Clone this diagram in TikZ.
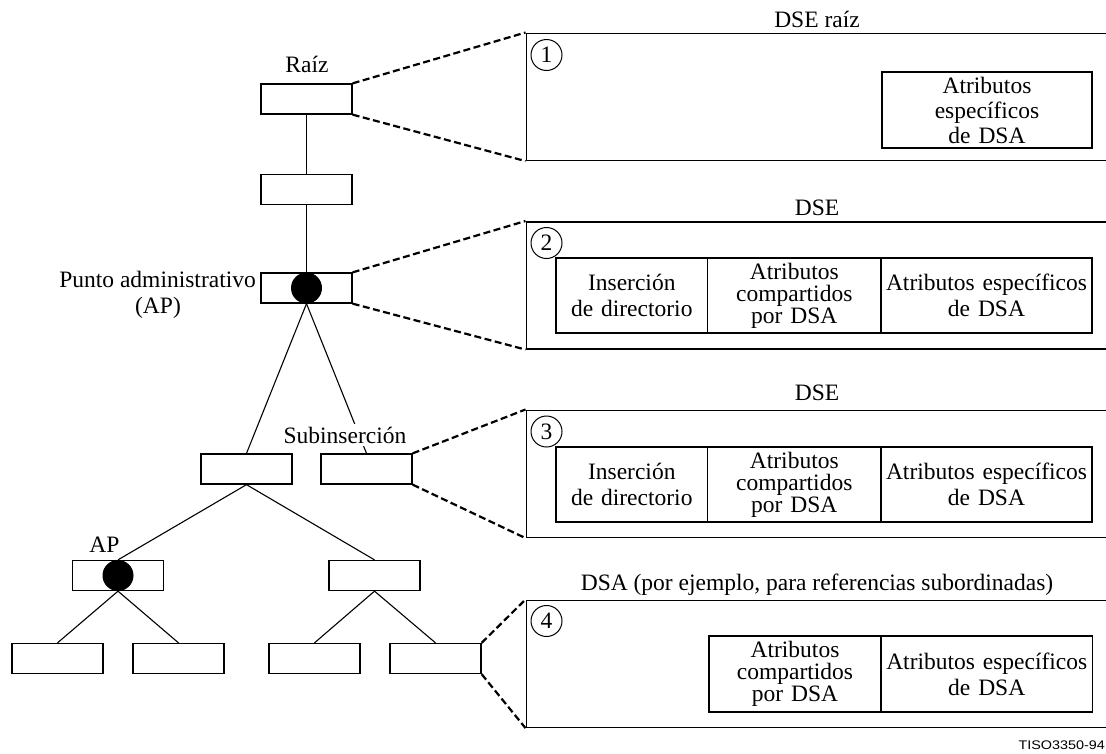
\documentclass[tikz,border=0pt]{standalone}
\usepackage{fontspec}
\setmainfont{Liberation Serif}
\newfontfamily\labelsans{Liberation Sans}[FakeStretch=1.15]
\begin{document}
\begin{tikzpicture}[x=1pt,y=-1pt,
  every node/.style={font=\fontsize{23.5}{26}\selectfont},
  tbox/.style={draw, line width=1.3pt, minimum width=91pt, minimum height=30pt, inner sep=0pt},
  bigbox/.style={draw, line width=1.6pt, anchor=north west, minimum width=620pt, minimum height=127pt, inner sep=0pt},
  cell/.style={draw, line width=1.3pt, inner sep=0pt, align=center, minimum height=75pt},
  conn/.style={line width=1.1pt},
  zoomln/.style={line width=2.2pt, dash pattern=on 7pt off 3.5pt},
  lbl/.style={inner sep=0pt},
  num/.style={circle, draw, line width=1pt, minimum size=31pt, inner sep=0pt},
  apdot/.style={circle, fill=black, minimum size=31pt, inner sep=0pt},
  tight/.style={font=\fontsize{23.5}{22}\selectfont}
]
\useasboundingbox (0,0) rectangle (1106,753);
\clip (0,0) rectangle (1106,753);

% tree boxes
\node[tbox] (r)   at (306.5,99) {};
\node[tbox] (b2)  at (306.5,189.5) {};
\node[tbox] (ap)  at (306.5,288) {};
\node[tbox] (l1)  at (246.5,469) {};
\node[tbox] (s)   at (366.5,469) {};
\node[tbox] (ap2) at (118,575.5) {};
\node[tbox] (rb)  at (374.5,575.5) {};
\node[tbox] (f1)  at (57.5,658.5) {};
\node[tbox] (f2)  at (178.5,658.5) {};
\node[tbox] (f3)  at (314.5,658.5) {};
\node[tbox] (f4)  at (435.5,658.5) {};

% connectors
\draw[conn] (r.south) -- (b2.north);
\draw[conn] (b2.south) -- (ap.north);
\draw[conn] (ap.south) -- (l1.north);
\draw[conn] (ap.south) -- (s.north);
\draw[conn] (l1.south) -- (ap2.north);
\draw[conn] (l1.south) -- (rb.north);
\draw[conn] (ap2.south) -- (f1.north);
\draw[conn] (ap2.south) -- (f2.north);
\draw[conn] (rb.south) -- (f3.north);
\draw[conn] (rb.south) -- (f4.north);

% administrative point dots
\node[apdot] (apd)  at (ap.center) {};
\node[apdot] (apd2) at (ap2.center) {};

% tree labels
\node[lbl, anchor=base] (lraiz) at (307,72) {Raíz};
\node[lbl, anchor=base east] (lpunto) at (256,287) {Punto administrativo};
\node[lbl, anchor=base] (lapp) at (158,313) {(AP)};
\node[lbl, anchor=base] (lap2) at (104.5,552) {AP};
\node[anchor=base, fill=white, inner xsep=1pt, inner ysep=3pt] (lsub) at (345,443) {Subinserción};

% big boxes
\node[bigbox] (bb1) at (525.5,32.5) {};
\node[bigbox] (bb2) at (525.5,221) {};
\node[bigbox] (bb3) at (525.5,409.5) {};
\node[bigbox] (bb4) at (525.5,599.5) {};

% titles
\node[lbl, anchor=base] (t1) at (817,27) {DSE raíz};
\node[lbl, anchor=base] (t2) at (817,215) {DSE};
\node[lbl, anchor=base] (t3) at (817,400) {DSE};
\node[lbl, anchor=base] (t4) at (817,590) {DSA (por ejemplo, para referencias subordinadas)};

% circled numbers
\node[num] (n1) at (546.5,55) {1};
\node[num] (n2) at (546.5,243) {2};
\node[num] (n3) at (546.5,431.5) {3};
\node[num] (n4) at (546.5,621) {4};

% zoom lines
\draw[zoomln] (r.north east) -- (bb1.north west);
\draw[zoomln] (r.south east) -- (bb1.south west);
\draw[zoomln] (ap.north east) -- (bb2.north west);
\draw[zoomln] (ap.south east) -- (bb2.south west);
\draw[zoomln] (s.north east) -- (bb3.north west);
\draw[zoomln] (s.south east) -- (bb3.south west);
\draw[zoomln] (f4.north east) -- (bb4.north west);
\draw[zoomln] (f4.south east) -- (bb4.south west);

% box 1 content
\node[cell, minimum width=210pt, minimum height=76pt, text width=206pt, font=\fontsize{23.5}{25}\selectfont] (c11) at (987,110) {Atributos\\específicos\\de DSA};

% box 2 content
\node[cell, minimum width=151.6pt, text width=148pt] (c21) at (631.8,295.5) {Inserción\\de directorio};
\node[cell, tight, minimum width=173.4pt, text width=170pt] (c22) at (794.3,295.5) {Atributos\\compartidos\\por DSA};
\node[cell, minimum width=211pt, text width=209pt] (c23) at (986.5,295.5) {Atributos específicos\\de DSA};

% box 3 content
\node[cell, minimum width=151.6pt, text width=148pt] (c31) at (631.8,484.5) {Inserción\\de directorio};
\node[cell, tight, minimum width=173.4pt, text width=170pt] (c32) at (794.3,484.5) {Atributos\\compartidos\\por DSA};
\node[cell, minimum width=211pt, text width=209pt] (c33) at (986.5,484.5) {Atributos específicos\\de DSA};

% box 4 content
\node[cell, tight, minimum width=172pt, minimum height=76pt, text width=168pt] (c41) at (795,674) {Atributos\\compartidos\\por DSA};
\node[cell, minimum width=211.5pt, minimum height=76pt, text width=209pt] (c42) at (986.75,674) {Atributos específicos\\de DSA};

% figure id
\node[lbl, anchor=base east, font=\labelsans\fontsize{12.5}{12.5}\selectfont] (fid) at (1105,749) {TISO3350-94};
\end{tikzpicture}
\end{document}
